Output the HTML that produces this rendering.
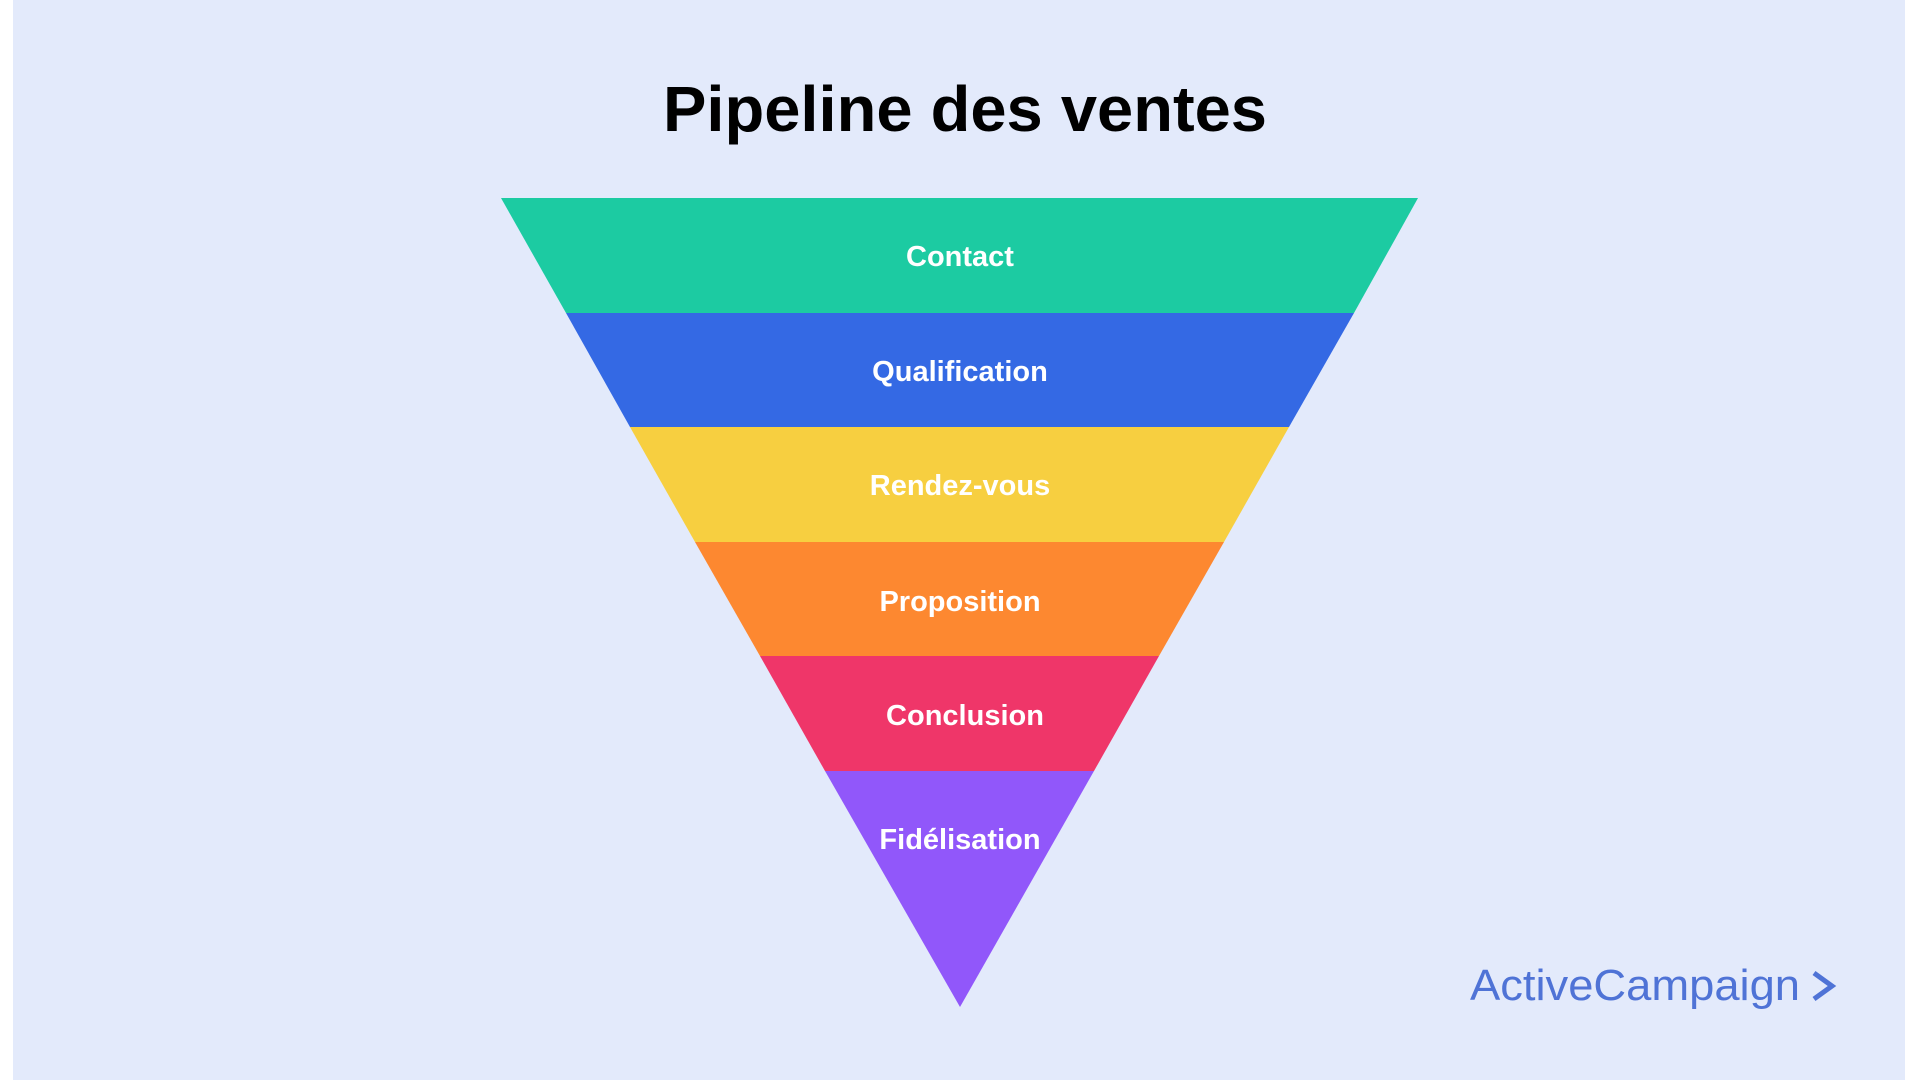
<!DOCTYPE html>
<html><head><meta charset="utf-8"><style>
html,body{margin:0;padding:0;width:1920px;height:1080px;background:#fff;overflow:hidden;}
.bg{position:absolute;left:13px;top:0;width:1892px;height:1080px;background:#e3eafb;}
svg{position:absolute;left:0;top:0;}
</style></head><body>
<div class="bg"></div>
<svg width="1920" height="1080" viewBox="0 0 1920 1080">
<text x="965" y="131" text-anchor="middle" font-family="Liberation Sans, sans-serif" font-weight="bold" font-size="64" fill="#000" textLength="604" lengthAdjust="spacingAndGlyphs">Pipeline des ventes</text>
<polygon points="501,198 1418,198 1354,313 566,313" fill="#1ccba2"/>
<polygon points="566,313 1354,313 1289,427 630,427" fill="#3469e4"/>
<polygon points="630,427 1289,427 1224,542 695,542" fill="#f7cf40"/>
<polygon points="695,542 1224,542 1159,656 760,656" fill="#fd8830"/>
<polygon points="760,656 1159,656 1094,771 825,771" fill="#ef3669"/>
<polygon points="825,771 1094,771 960,1007" fill="#9157fa"/>
<g font-family="Liberation Sans, sans-serif" font-weight="bold" font-size="29" fill="#fff" text-anchor="middle">
<text x="960" y="266">Contact</text>
<text x="960" y="381">Qualification</text>
<text x="960" y="495">Rendez-vous</text>
<text x="960" y="611">Proposition</text>
<text x="965" y="725">Conclusion</text>
<text x="960" y="849">Fidélisation</text>
</g>
<text x="1470" y="1000" font-family="Liberation Sans, sans-serif" font-size="44" fill="#4f73d6" textLength="330" lengthAdjust="spacingAndGlyphs">ActiveCampaign</text>
<polyline points="1814,973 1832,986 1814,999" fill="none" stroke="#4f73d6" stroke-width="5"/>
</svg>
</body></html>
